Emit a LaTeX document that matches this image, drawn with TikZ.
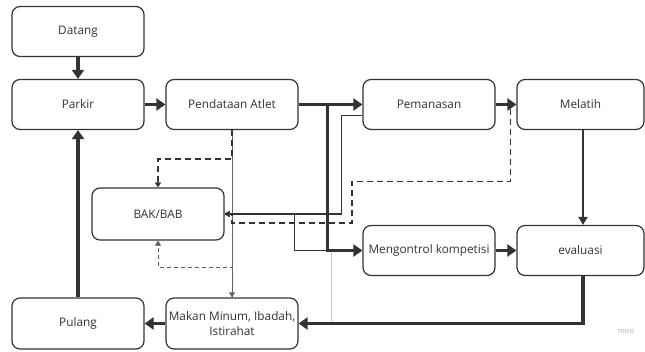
\documentclass[tikz,border=0pt]{standalone}
\usepackage{fontspec}
\setmainfont{Open Sans}
\usetikzlibrary{arrows.meta}
\definecolor{ink}{HTML}{333333}
\begin{document}
\begin{tikzpicture}[x=1pt,y=-1pt,
  box/.style={draw=ink,line width=1.2pt,rounded corners=8pt,fill=white,minimum width=132pt,minimum height=50pt,inner sep=0pt,font=\fontsize{11.8}{15}\selectfont,text=ink,align=center},
  boxr/.style={box,minimum width=127pt},
  thickarrow/.style={draw=ink,line width=3.2pt,-{Triangle[length=9pt,width=12pt]}},
  midarrow/.style={draw=ink,line width=2pt,-{Triangle[length=8pt,width=9pt]}},
  medline/.style={draw=ink,line width=1.4pt},
  dashline/.style={draw=ink,line width=1.3pt,dash pattern=on 6pt off 4pt},
  thindash/.style={draw=ink!80,line width=0.9pt,dash pattern=on 4pt off 3pt},
  thinline/.style={draw=ink!75,line width=0.9pt},
  smalltip/.style={-{Triangle[length=5pt,width=6pt]}}
]
\useasboundingbox (0,0) rectangle (645,351);
\fill[white] (0,0) rectangle (645,351);

% nodes
\node[box] (datang) at (78,31.5) {Datang};
\node[box] (parkir) at (78,104.5) {Parkir};
\node[box] (pend) at (232,104.5) {Pendataan Atlet};
\node[box] (peman) at (429,104.5) {Pemanasan};
\node[boxr] (melatih) at (580.5,104.5) {Melatih};
\node[box,minimum height=52pt] (bak) at (158,214) {BAK/BAB};
\node[box] (mengon) at (429,250.5) {Mengontrol kompetisi};
\node[boxr] (eval) at (580.5,250.5) {evaluasi};
\node[box,minimum height=51pt] (pulang) at (78,323.5) {Pulang};
\node[box,minimum height=51pt,font=\fontsize{11.8}{14.5}\selectfont] (makan) at (232,323.5) {Makan Minum, Ibadah,\\Istirahat};

% coordinates for bends
\coordinate (grayA) at (331,251);
\coordinate (grayB) at (331,322);

% light gray stray line
\draw[gray!45,line width=0.9pt] (grayA) -- (grayB);

% thin solid Pendataan -> Makan
\draw[thinline,smalltip] (pend.south) -- (makan.north);
% dashed Pendataan -> BAK top
\draw[dashline,smalltip] (pend.south) -- ++(0,29) -| (bak.north);
% thin dashed Makan -> BAK bottom
\draw[thindash,smalltip] (makan.north) -- ++(0,-30) -| (bak.south);

% Pemanasan -> BAK (solid medium)
\draw[medline,smalltip] ([yshift=-11pt]peman.west) -- ++(-21,0) |- (bak.east);
% BAK -> Mengontrol (medium)
\draw[medline] (bak.east) -- ++(70,0) |- (mengon.west);
% dashed Melatih -> BAK
\draw[dashline,smalltip] (melatih.west) -- ++(-6,0) -- ++(0,77) -- (352,181.5) -- (352,223) -- (232,223) |- (bak.east);

% thick arrows
\draw[thickarrow] (datang.south) -- (parkir.north);
\draw[thickarrow] (parkir.east) -- (pend.west);
\draw[thickarrow] (pend.east) -- (peman.west);
\draw[thickarrow] (pend.east) -- ++(29,0) |- (mengon.west);
\draw[thickarrow] (peman.east) -- (melatih.west);
\draw[midarrow] ([xshift=2.5pt]melatih.south) -- ([xshift=2.5pt]eval.north);
\draw[thickarrow] (mengon.east) -- (eval.west);
\draw[thickarrow] ([xshift=2.5pt]eval.south) |- (makan.east);
\draw[thickarrow] (makan.west) -- (pulang.east);
\draw[thickarrow] (pulang.north) -- (parkir.south);

% watermark
\node[text=gray!60,font=\fontsize{7.5}{8}\selectfont] (miro) at (626,331) {miro};
\end{tikzpicture}
\end{document}
